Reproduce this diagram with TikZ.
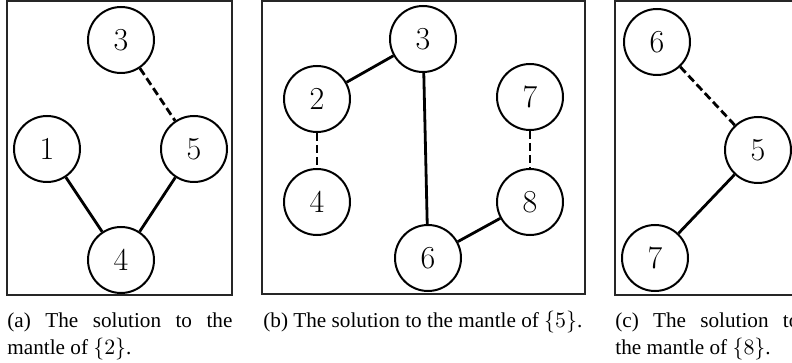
\documentclass[tikz,border=0pt]{standalone}
\usepackage[no-math]{fontspec}
\setmainfont{Liberation Serif}
\newfontfamily\digitfont{Latin Modern Roman}
\begin{document}
\begin{tikzpicture}[x=0.5pt,y=-0.5pt,
    vertex/.style={circle,draw,line width=1pt,minimum size=33pt,inner sep=0pt,
      font=\digitfont\fontsize{16}{19}\selectfont},
    tree/.style={line width=1.4pt},
    mantle/.style={line width=1.4pt,dash pattern=on 4pt off 2pt},
    panel/.style={draw=black!85,line width=0.6pt},
    caption/.style={anchor=base west,inner sep=0pt,align=justify,
      font=\fontsize{10.6}{13.5}\selectfont}]
  \useasboundingbox (0,0) rectangle (792,363);
  % frames
  \draw[panel] (7,1) rectangle (232,295);
  \draw[panel] (262,1) rectangle (585,294);
  \draw[panel] (615,1) rectangle (800,295);
  % (a)
  \draw
    (121,40) node[vertex] (a3){3}
    (47,149) node[vertex] (a1){1}
    (194,149) node[vertex] (a5){5}
    (121,260) node[vertex] (a4){4};
  \begin{scope}[tree]
    \draw (a1) to (a4);
    \draw (a5) to (a4);
  \end{scope}
  \draw[mantle] (a3) to (a5);
  % (b)
  \draw
    (423,39) node[vertex] (b3){3}
    (317,99) node[vertex] (b2){2}
    (530,97) node[vertex] (b7){7}
    (317,202) node[vertex] (b4){4}
    (530,202) node[vertex] (b8){8}
    (428,258) node[vertex] (b6){6};
  \begin{scope}[tree]
    \draw (b2) to (b3);
    \draw (b3) to (b6);
    \draw (b8) to (b6);
  \end{scope}
  \begin{scope}[mantle]
    \draw (b2) to (b4);
    \draw (b7) to (b8);
  \end{scope}
  % (c)
  \draw
    (657,42) node[vertex] (c6){6}
    (758,150) node[vertex] (c5){5}
    (655,258) node[vertex] (c7){7};
  \draw[tree] (c5) to (c7);
  \draw[mantle] (c6) to (c5);
  % captions
  \node[caption,text width=112.5pt] (capa) at (7,327)
    {(a) The solution to the mantle of $\{2\}$.};
  \node[caption] (capb) at (263,327)
    {(b) The solution to the mantle of $\{5\}$.};
  \node[caption,text width=92pt] (capc) at (615,327)
    {(c) The solution to\linebreak the mantle of $\{8\}$.};
\end{tikzpicture}
\end{document}
